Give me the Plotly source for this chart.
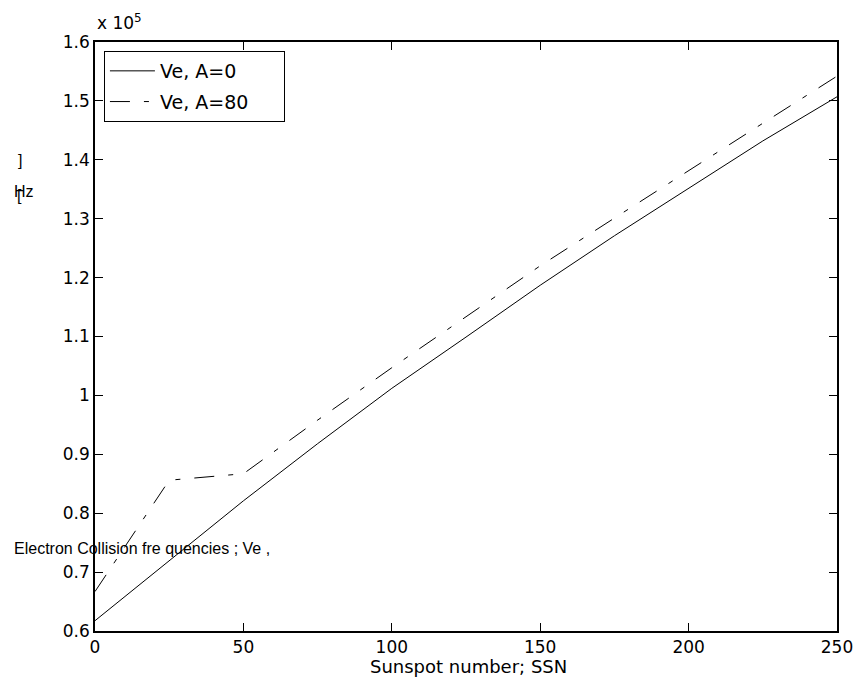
import plotly.graph_objects as go

# Data (collision frequency in units of 1e5 Hz)
ssn = [0, 25, 50, 75, 100, 125, 150, 175, 200, 225, 250]
ve_a0 = [0.6175, 0.719, 0.821, 0.918, 1.012, 1.099, 1.187, 1.271, 1.351, 1.432, 1.507]
ve_a80 = [0.667, 0.856, 0.867, 0.958, 1.047, 1.134, 1.220, 1.301, 1.382, 1.462, 1.542]
series_names = ["Ve, A=0", "Ve, A=80"]

x_ticks = [0, 50, 100, 150, 200, 250]
y_ticks = [0.6, 0.7, 0.8, 0.9, 1.0, 1.1, 1.2, 1.3, 1.4, 1.5, 1.6]
y_ticktext = ["0.6", "0.7", "0.8", "0.9", "1", "1.1", "1.2", "1.3", "1.4", "1.5", "1.6"]

W, H = 865, 694
ML, MR, MT, MB = 95, 22, 42, 63
PW, PH = W - ML - MR, H - MT - MB

FONT = "DejaVu Sans"
PAD = "\u00a0" * 5

fig = go.Figure()
fig.add_trace(go.Scatter(x=ssn, y=ve_a0, mode="lines", name=series_names[0] + PAD,
                         line=dict(color="black", width=1), legendgroup="a"))
fig.add_trace(go.Scatter(x=ssn, y=ve_a80, mode="lines", name=series_names[1] + PAD,
                         line=dict(color="black", width=1, dash="20px,14px,5px,14px"),
                         legendgroup="b"))

axis_common = dict(showgrid=False, zeroline=False, showline=True, linecolor="black",
                   linewidth=1.5, mirror="allticks", ticks="inside", ticklen=8,
                   tickwidth=1, tickcolor="black",
                   tickfont=dict(family=FONT, size=17, color="black"))

fig.update_xaxes(range=[0, 250], tickvals=x_ticks, **axis_common)
fig.update_yaxes(range=[0.6, 1.6], tickvals=y_ticks, ticktext=y_ticktext, **axis_common)

def px_x(px):
    return (px - ML) / PW

def px_y(py):
    return 1 - (py - MT) / PH

annots = [
    dict(text="x 10<sup>5</sup>", x=px_x(95), y=px_y(22), xanchor="left", yanchor="middle",
         font=dict(family=FONT, size=17, color="black")),
    dict(text="Sunspot number; SSN", x=px_x(472), y=px_y(666), xanchor="center", yanchor="middle",
         font=dict(family=FONT, size=18, color="black")),
    dict(text="Electron Collision fre quencies ; Ve ,", x=px_x(11), y=px_y(548),
         xanchor="left", yanchor="middle",
         font=dict(family="Liberation Sans", size=16, color="black")),
    dict(text="]", x=px_x(15), y=px_y(160), xanchor="left", yanchor="middle",
         font=dict(family="Liberation Sans", size=16, color="black")),
    dict(text="Hz", x=px_x(11), y=px_y(192), xanchor="left", yanchor="middle",
         font=dict(family="Liberation Sans", size=16, color="black")),
    dict(text="[", x=px_x(14), y=px_y(195), xanchor="left", yanchor="middle",
         font=dict(family="Liberation Sans", size=16, color="black")),
]
for a in annots:
    a.update(xref="paper", yref="paper", showarrow=False)

fig.update_layout(
    width=W, height=H,
    margin=dict(l=ML, r=MR, t=MT, b=MB, pad=0),
    paper_bgcolor="white", plot_bgcolor="white",
    annotations=annots,
    showlegend=True,
    legend=dict(x=px_x(104), y=px_y(51), xanchor="left", yanchor="top",
                bgcolor="white", bordercolor="black", borderwidth=1,
                font=dict(family=FONT, size=19, color="black"),
                tracegroupgap=3, itemwidth=45),
)

fig.write_html("out.html")
